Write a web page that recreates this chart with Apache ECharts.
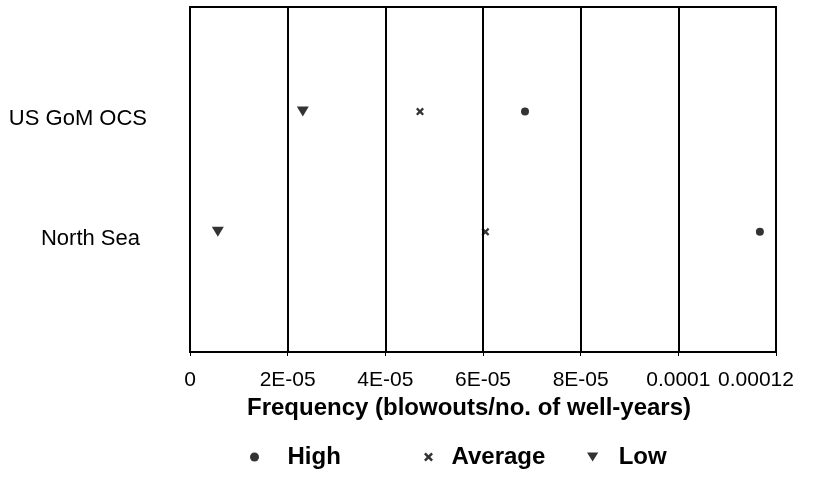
<!DOCTYPE html>
<html>
<head>
<meta charset="utf-8">
<script src="https://cdn.jsdelivr.net/npm/echarts@6/dist/echarts.min.js"></script>
<style>
  html, body { margin: 0; padding: 0; background: #fff; }
  #chart { width: 825px; height: 484px; }
</style>
</head>
<body>
<div id="chart"></div>
<script>
// regions on the y axis (value position -> label)
const regions = ['North Sea', 'US GoM OCS'];
const regionPos = [1, 2];

// blowout frequency per region, same order as regions
const highVals = [0.0001167, 0.0000686];
const averageVals = [0.0000605, 0.0000471];
const lowVals = [0.0000057, 0.0000231];

const tickLabels = ['0', '2E-05', '4E-05', '6E-05', '8E-05', '0.0001', '0.00012'];

const FONT = '"Liberation Sans", Arial, sans-serif';
const crossPath = 'path://M0,2 L2,0 L5,3 L8,0 L10,2 L7,5 L10,8 L8,10 L5,7 L2,10 L0,8 L3,5 Z';
const downTriangle = 'path://M0,0 L10,0 L5,8 Z';

const pts = vals => vals.map((v, i) => [v, regionPos[i]]);

const chart = echarts.init(document.getElementById('chart'));

const legendText = { fontFamily: FONT, fontSize: 24, fontWeight: 'bold', color: '#000' };

const option = {
  backgroundColor: '#fff',
  animation: false,
  grid: {
    left: 190, right: 49, top: 7, bottom: 132,
    outerBoundsMode: 'none',
    containLabel: false,
    show: true, borderColor: '#000', borderWidth: 2
  },
  xAxis: {
    type: 'value',
    min: 0,
    max: 0.00012,
    interval: 0.00002,
    name: 'Frequency (blowouts/no. of well-years)',
    nameLocation: 'middle',
    nameGap: 43,
    nameTextStyle: { fontFamily: FONT, fontSize: 24, fontWeight: 'bold', color: '#000', padding: [0, 28, 0, 0] },
    axisLine: { lineStyle: { color: '#000', width: 2 } },
    axisTick: { show: true, length: 4, lineStyle: { color: '#000', width: 1 } },
    splitLine: { show: true, lineStyle: { color: '#000', width: 2 } },
    axisLabel: {
      color: '#000',
      fontFamily: FONT,
      fontSize: 21,
      margin: 18,
      interval: 0,
      hideOverlap: false,
      showMinLabel: true,
      showMaxLabel: true,
      formatter: (v, i) => i === tickLabels.length - 1 ? '{m|' + tickLabels[i] + '}' : tickLabels[i],
      rich: {
        m: { fontFamily: FONT, fontSize: 21, color: '#000', padding: [0, 40, 0, 0] }
      }
    }
  },
  yAxis: {
    type: 'value',
    min: 0,
    max: 2.87,
    interval: 1,
    axisLine: { show: false },
    axisTick: { show: false },
    splitLine: { show: false },
    axisLabel: {
      color: '#000',
      fontFamily: FONT,
      fontSize: 22,
      margin: 43,
      formatter: v => {
        const i = regionPos.indexOf(v);
        if (i < 0) return '';
        return i === 0 ? '{b|' + regions[i] + '}' : '{a|' + regions[i] + '}';
      },
      rich: {
        a: { fontFamily: FONT, fontSize: 22, color: '#000', padding: [14, 0, 0, 0] },
        b: { fontFamily: FONT, fontSize: 22, color: '#000', padding: [14, 7, 0, 0] }
      }
    }
  },
  legend: [
    { left: 250, top: 445, padding: 0, itemWidth: 56, itemHeight: 9, textStyle: legendText,
      data: [{ name: 'High', icon: 'circle' }] },
    { left: 424, top: 445, padding: 0, itemWidth: 36, itemHeight: 9, textStyle: legendText,
      data: [{ name: 'Average', icon: crossPath }] },
    { left: 587, top: 445, padding: 0, itemWidth: 42, itemHeight: 9, textStyle: legendText,
      data: [{ name: 'Low', icon: downTriangle }] }
  ],
  series: [
    {
      name: 'High', type: 'scatter', data: pts(highVals),
      symbol: 'circle', symbolSize: 8,
      itemStyle: { color: '#000' }
    },
    {
      name: 'Average', type: 'scatter', data: pts(averageVals),
      symbol: crossPath, symbolSize: 8,
      itemStyle: { color: '#000' }
    },
    {
      name: 'Low', type: 'scatter', data: pts(lowVals),
      symbol: downTriangle, symbolSize: [12, 10],
      itemStyle: { color: '#000' }
    }
  ]
};

chart.setOption(option);
</script>
</body>
</html>
